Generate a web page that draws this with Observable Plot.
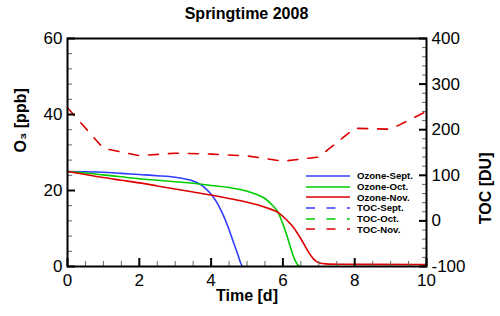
<!DOCTYPE html>
<html>
<head>
<meta charset="utf-8">
<script src="https://cdn.jsdelivr.net/npm/d3@7"></script>
<script src="https://cdn.jsdelivr.net/npm/@observablehq/plot@0.6"></script>
<style>
  body { margin: 0; background: #fff; font-family: "Liberation Sans", Arial, Helvetica, sans-serif; }
  #wrap { position: relative; width: 500px; height: 316px; }
  #title { position: absolute; left: 67px; width: 359px; top: 4px; height: 20px; text-align: center;
           font-weight: bold; font-size: 16px; line-height: 20px; }
  #chart { position: absolute; left: 0; top: 26px; }
  #legend { position: absolute; left: 306px; top: 170.5px; font-weight: bold; font-size: 9.6px; }
  .row { height: 10.7px; display: flex; align-items: center; white-space: nowrap; }
  .row svg { width: 51px; height: 10px; flex: none; }
</style>
</head>
<body>
<div id="wrap">
  <div id="title">Springtime 2008</div>
  <div id="chart"></div>
  <div id="legend"></div>
</div>
<script>
// ---- data ----
const septT  = [0, 0.5, 1, 1.5, 2, 2.5, 3, 3.25, 3.5, 3.7, 3.85, 4.0, 4.15, 4.3, 4.45, 4.6, 4.75, 4.82, 4.87];
const septO3 = [25.0, 24.95, 24.8, 24.5, 24.2, 23.9, 23.5, 23.1, 22.5, 21.6, 20.5, 19.0, 17.0, 14.3, 11.0, 7.0, 3.0, 1.0, 0];

const octT  = [0, 0.5, 1, 1.5, 2, 2.5, 3, 3.5, 4, 4.5, 5, 5.25, 5.5, 5.7, 5.85, 6.0, 6.1, 6.2, 6.3, 6.4, 6.47];
const octO3 = [25.0, 24.6, 24.1, 23.6, 23.1, 22.7, 22.3, 21.9, 21.3, 20.8, 19.8, 19.0, 17.9, 16.2, 14.5, 11.2, 8.5, 5.4, 2.5, 0.6, 0];

const novT  = [0, 0.5, 1, 1.5, 2, 2.5, 3, 3.5, 4, 4.5, 5, 5.5, 5.9, 6.1, 6.3, 6.5, 6.7, 6.85, 7.0, 7.2, 7.6, 8.5, 10];
const novO3 = [25.0, 24.2, 23.4, 22.7, 22.0, 21.2, 20.4, 19.6, 18.8, 17.9, 16.9, 15.6, 14.0, 12.3, 10.2, 7.3, 4.0, 2.0, 1.0, 0.7, 0.6, 0.55, 0.5];

const tocNovT  = [0, 1, 2, 3, 4, 5, 6, 7, 8, 9, 10];
const tocNovDU = [248, 159, 143, 148.5, 146.5, 142.5, 131, 140, 203, 201, 240];

const xMajor = [0, 2, 4, 6, 8, 10];
const o3Major = [0, 20, 40, 60];
const duMajor = [-100, 0, 100, 200, 300, 400];

const seriesNames = ["Ozone-Sept.", "Ozone-Oct.", "Ozone-Nov.", "TOC-Sept.", "TOC-Oct.", "TOC-Nov."];
const seriesColors = ["#2f3cff", "#00cc00", "#dd0000", "#2f3cff", "#00cc00", "#dd0000"];
const seriesDashed = [false, false, false, true, true, true];

// ---- helpers ----
const O3MAX = 60, DUMIN = -100, DUMAX = 400;
const duToY = du => (du - DUMIN) * O3MAX / (DUMAX - DUMIN);
const yToDu = y => Math.round(y * (DUMAX - DUMIN) / O3MAX + DUMIN);
const zip = (T, V) => T.map((t, i) => ({t, v: V[i]}));

const sept = zip(septT, septO3);
const oct = zip(octT, octO3);
const nov = zip(novT, novO3);
const tocNov = zip(tocNovT, tocNovDU);

const xMinor = d3.range(0, 10.001, 0.5).filter(v => !xMajor.includes(v));
const o3Minor = d3.range(0, 60.001, 4).filter(v => !o3Major.includes(v));
const duMinor = d3.range(-100, 400.001, 20).filter(v => !duMajor.includes(v));

const font = "Liberation Sans, Arial, Helvetica, sans-serif";

const chart = Plot.plot({
  width: 500,
  height: 290,
  marginLeft: 67,
  marginRight: 74,
  marginTop: 12,
  marginBottom: 50,
  style: {fontFamily: font, background: "white", overflow: "visible"},
  x: {domain: [0, 10]},
  y: {domain: [0, 60]},
  marks: [
    // series
    Plot.line(sept, {x: "t", y: "v", stroke: seriesColors[0], strokeWidth: 1.6, curve: "monotone-x"}),
    Plot.line(oct, {x: "t", y: "v", stroke: seriesColors[1], strokeWidth: 1.6, curve: "monotone-x"}),
    Plot.line(nov, {x: "t", y: "v", stroke: seriesColors[2], strokeWidth: 1.6, curve: "monotone-x"}),
    Plot.line(tocNov, {x: "t", y: d => duToY(d.v), stroke: seriesColors[5], strokeWidth: 1.6, strokeDasharray: "10,10"}),
    // x axis ticks (inward)
    Plot.axisX({ticks: xMinor, tickSize: -5, text: null, label: null, stroke: "#666", strokeWidth: 1}),
    Plot.axisX({ticks: xMajor, tickSize: -8, text: null, label: null, stroke: "black", strokeWidth: 2}),
    Plot.axisX({ticks: xMajor, tickSize: 0, tickPadding: 7, fontSize: 17, label: null, tickFormat: d => d}),
    // left y axis
    Plot.axisY({ticks: o3Minor, tickSize: -5, text: null, label: null, stroke: "#666", strokeWidth: 1}),
    Plot.axisY({ticks: o3Major, tickSize: -8, text: null, label: null, stroke: "black", strokeWidth: 2}),
    Plot.axisY({ticks: o3Major, tickSize: 0, tickPadding: 5, fontSize: 17, label: null, tickFormat: d => d}),
    // right y axis (TOC in DU)
    Plot.axisY({anchor: "right", ticks: duMinor.map(duToY), tickSize: -5, text: null, label: null, stroke: "#666", strokeWidth: 1}),
    Plot.axisY({anchor: "right", ticks: duMajor.map(duToY), tickSize: -8, text: null, label: null, stroke: "black", strokeWidth: 2}),
    Plot.axisY({anchor: "right", ticks: duMajor.map(duToY), tickSize: 0, tickPadding: 5, fontSize: 17, label: null, tickFormat: yToDu}),
    // axis labels
    Plot.text(["Time [d]"], {frameAnchor: "bottom", dy: 34, fontSize: 16, fontWeight: "bold"}),
    Plot.text(["O\u2083 [ppb]"], {frameAnchor: "left", dx: -47, rotate: -90, fontSize: 16, fontWeight: "bold"}),
    Plot.text(["TOC [DU]"], {frameAnchor: "right", dx: 59, rotate: -90, fontSize: 16, fontWeight: "bold"}),
    Plot.frame({stroke: "black", strokeWidth: 2})
  ]
});
document.getElementById("chart").appendChild(chart);

// legend
const legend = document.getElementById("legend");
seriesNames.forEach((name, i) => {
  const row = document.createElement("div");
  row.className = "row";
  const dash = seriesDashed[i] ? ' stroke-dasharray="9,11.5"' : '';
  row.innerHTML = `<svg viewBox="0 0 51 10"><line x1="0" x2="44" y1="5" y2="5" stroke="${seriesColors[i]}" stroke-width="1.6"${dash}/></svg><span>${name}</span>`;
  legend.appendChild(row);
});
</script>
</body>
</html>
